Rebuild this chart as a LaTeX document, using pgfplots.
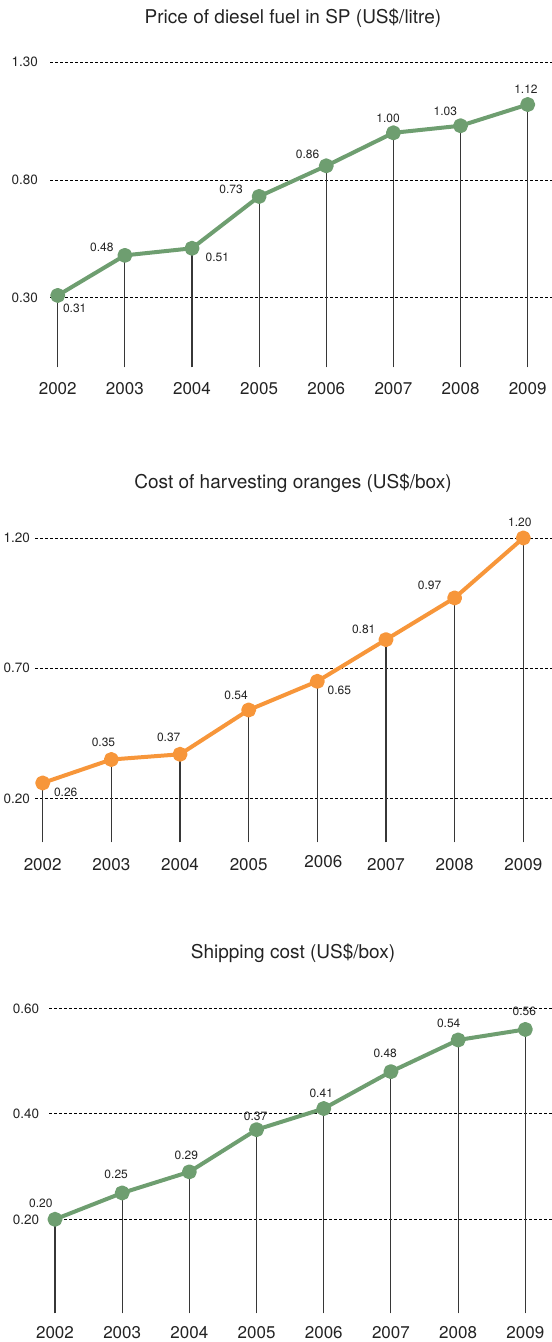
\documentclass[border=0pt]{standalone}
\usepackage{pgfplots}
\pgfplotsset{compat=1.18}
\usepackage{pgfplotstable}
\usepackage{fontspec}
\setmainfont{TeX Gyre Heros}
\definecolor{lgreen}{RGB}{110,158,112}
\definecolor{lorange}{RGB}{247,150,58}
\definecolor{txt}{RGB}{35,35,35}
\definecolor{vline}{RGB}{55,55,55}

% diesel price (US$/litre)
\pgfplotstableread{
x y
2002 0.31
2003 0.48
2004 0.51
2005 0.73
2006 0.86
2007 1.00
2008 1.03
2009 1.12
}\dataA
% harvesting cost (US$/box)
\pgfplotstableread{
x y
2002 0.26
2003 0.35
2004 0.37
2005 0.54
2006 0.65
2007 0.81
2008 0.97
2009 1.20
}\dataB
% shipping cost (US$/box)
\pgfplotstableread{
x y
2002 0.20
2003 0.25
2004 0.29
2005 0.37
2006 0.41
2007 0.48
2008 0.54
2009 0.56
}\dataC

\pgfplotsset{
  panel/.style={
    scale only axis, anchor=south west,
    axis line style={draw=none}, major tick length=0pt,
    xtick={2002,2003,2004,2005,2006,2007,2008,2009},
    ymajorgrids,
    major grid style={black, dash pattern=on 3bp off 2bp, line width=0.8bp},
    xticklabel style={anchor=center, inner sep=0pt, font=\fontsize{17bp}{20bp}\selectfont, text=txt},
    yticklabel style={anchor=east, inner sep=0pt, font=\fontsize{13.5bp}{16bp}\selectfont, text=txt},
    clip=true,
  },
  combs/.style={ycomb, draw=vline, line width=1.1bp, mark=none},
  series/.style={
    color=#1, line width=4bp, line join=round,
    mark=*, mark size=5.5bp, mark options={fill=#1, draw=none, solid},
  },
  vlab/.style={draw=none, mark=none, nodes near coords, point meta=explicit symbolic,
    every node near coord/.append style={anchor=center, inner sep=0pt, text=txt,
      font=\fontsize{12bp}{14bp}\selectfont}},
}
% value label: x, y, horizontal and vertical offset (bp)
\newcommand\lbl[4]{\addplot[vlab, every node near coord/.append style={xshift=#3bp, yshift=#4bp}] coordinates {(#1,#2) [#2]};}

\begin{document}
\begin{tikzpicture}
\path[use as bounding box] (0,0) rectangle (552bp,-1342bp);

% Panel 1
\begin{axis}[panel, at={(50bp,-367.3bp)}, width=502bp, height=309.9bp,
  xmin=2001.885, xmax=2009.362, ymin=0.005, ymax=1.32,
  xticklabels={2002,2003,2004,2005,2006,2007,2008,2009},
  ytick={0.30,0.80,1.30}, yticklabels={0.30,0.80,1.30},
  yticklabel style={xshift=-12bp}, xticklabel style={yshift=-21.7bp}]
\addplot[combs] table[x=x,y=y]{\dataA};
\addplot[series=lgreen] table[x=x,y=y]{\dataA};
\lbl{2002}{0.31}{17}{-13}
\lbl{2003}{0.48}{-23}{8}
\lbl{2004}{0.51}{25.3}{-8.8}
\lbl{2005}{0.73}{-28}{6.8}
\lbl{2006}{0.86}{-18.7}{11}
\lbl{2007}{1.00}{-5.3}{14.2}
\lbl{2008}{1.03}{-15.3}{14.8}
\lbl{2009}{1.12}{-1.7}{15.3}
\end{axis}
\node[anchor=base, text=txt, font=\fontsize{19bp}{22bp}\selectfont] at (293bp,-23.3bp) {Price of diesel fuel in SP (US\$/litre)};

% Panel 2
\begin{axis}[panel, at={(35bp,-842.3bp)}, width=517bp, height=330.4bp,
  xmin=2001.888, xmax=2009.418, ymin=0.0323, ymax=1.30,
  xticklabels={2002,2003,2004,2005,{\hspace*{12bp}\raisebox{3bp}[\height][0pt]{2006}},2007,2008,2009},
  ytick={0.20,0.70,1.20}, yticklabels={0.20,0.70,1.20},
  yticklabel style={xshift=-5bp}, xticklabel style={yshift=-22bp}]
\addplot[combs] table[x=x,y=y]{\dataB};
\addplot[series=lorange] table[x=x,y=y]{\dataB};
\lbl{2002}{0.26}{23}{-9.7}
\lbl{2003}{0.35}{-7.9}{17.1}
\lbl{2004}{0.37}{-11.3}{16.6}
\lbl{2005}{0.54}{-12.6}{14.8}
\lbl{2006}{0.65}{22}{-8.8}
\lbl{2007}{0.81}{-22.3}{10}
\lbl{2008}{0.97}{-25}{12.3}
\lbl{2009}{1.20}{-3.5}{15.2}
\end{axis}
\node[anchor=base, text=txt, font=\fontsize{19bp}{22bp}\selectfont] at (293bp,-488bp) {Cost of harvesting oranges (US\$/box)};

% Panel 3
\begin{axis}[panel, at={(49bp,-1313.3bp)}, width=503bp, height=320.8bp,
  xmin=2001.911, xmax=2009.397, ymin=0.0218, ymax=0.63,
  xticklabels={2002,2003,2004,2005,2006,2007,2008,2009},
  ytick={0.20,0.40,0.60}, yticklabels={0.20,0.40,0.60},
  yticklabel style={xshift=-9.7bp}, xticklabel style={yshift=-19bp}]
\addplot[combs] table[x=x,y=y]{\dataC};
\addplot[series=lgreen] table[x=x,y=y]{\dataC};
\lbl{2002}{0.20}{-14.2}{16}
\lbl{2003}{0.25}{-6}{18.2}
\lbl{2004}{0.29}{-3}{16.4}
\lbl{2005}{0.37}{-1}{13.3}
\lbl{2006}{0.41}{-2.5}{15.3}
\lbl{2007}{0.48}{-5.7}{18.7}
\lbl{2008}{0.54}{-9.4}{17}
\lbl{2009}{0.56}{-1}{18}
\end{axis}
\node[anchor=base, text=txt, font=\fontsize{19bp}{22bp}\selectfont] at (293bp,-958bp) {Shipping cost (US\$/box)};
\end{tikzpicture}
\end{document}
